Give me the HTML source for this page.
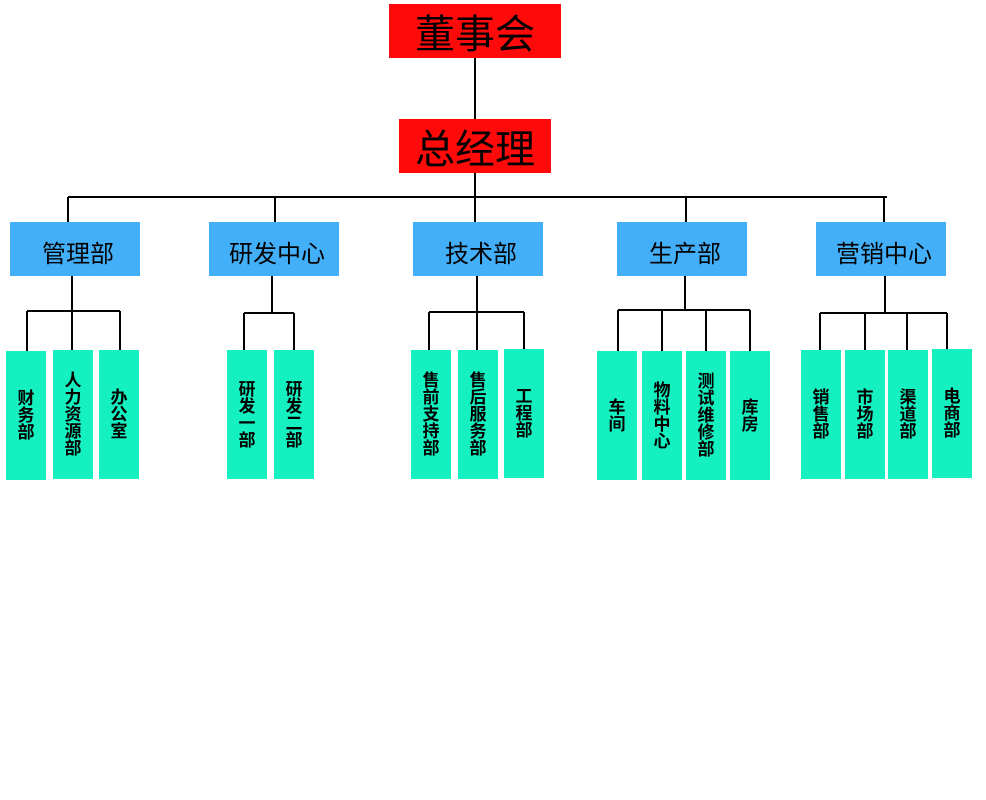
<!DOCTYPE html>
<html><head><meta charset="utf-8"><style>
body{margin:0;width:986px;height:800px;background:#fff;position:relative;overflow:hidden;font-family:"Liberation Sans","Noto Sans CJK SC",sans-serif;}
.b{position:absolute;display:flex;align-items:center;justify-content:center;color:#000;}
.r{background:#ff0a0a;font-size:40px;}
.m{background:#42aff8;font-size:24px;}
.m span{margin-left:6px;margin-top:4px;}
.g{background:#14f0c0;font-size:17px;line-height:17px;font-weight:bold;}
.g span{width:17px;text-align:center;word-break:break-all;}
svg{position:absolute;left:0;top:0;}
</style></head><body>
<svg width="986" height="800" stroke="#000" stroke-width="2" fill="none">
<path d="M475 58V119M475 173V197M68 197H887M68 197V222M275 197V222M475 197V222M686 197V222M884 197V222"/>
<path d="M72 276V311M27 311H120M27 311V351M72 311V350M120 311V350"/>
<path d="M272 276V313M244 313H294M244 313V350M294 313V350"/>
<path d="M477 276V312M429 312H524M429 312V350M477 312V350M524 312V349"/>
<path d="M685 276V310M618 310H750M618 310V351M662 310V351M706 310V351M750 310V351"/>
<path d="M885 276V313M820 313H947M820 313V350M865 313V350M907 313V350M947 313V349"/>
</svg>
<div class="b r" style="left:389px;top:4px;width:172px;height:54px">董事会</div>
<div class="b r" style="left:399px;top:119px;width:152px;height:54px">总经理</div>
<div class="b m" style="left:10px;top:222px;width:130px;height:54px"><span>管理部</span></div>
<div class="b m" style="left:209px;top:222px;width:130px;height:54px"><span>研发中心</span></div>
<div class="b m" style="left:413px;top:222px;width:130px;height:54px"><span>技术部</span></div>
<div class="b m" style="left:617px;top:222px;width:130px;height:54px"><span>生产部</span></div>
<div class="b m" style="left:816px;top:222px;width:130px;height:54px"><span>营销中心</span></div>
<div class="b g" style="left:6px;top:351px;width:40px;height:129px"><span>财务部</span></div>
<div class="b g" style="left:53px;top:350px;width:40px;height:129px"><span>人力资源部</span></div>
<div class="b g" style="left:99px;top:350px;width:40px;height:129px"><span>办公室</span></div>
<div class="b g" style="left:227px;top:350px;width:40px;height:129px"><span>研发一部</span></div>
<div class="b g" style="left:274px;top:350px;width:40px;height:129px"><span>研发二部</span></div>
<div class="b g" style="left:411px;top:350px;width:40px;height:129px"><span>售前支持部</span></div>
<div class="b g" style="left:458px;top:350px;width:40px;height:129px"><span>售后服务部</span></div>
<div class="b g" style="left:504px;top:349px;width:40px;height:129px"><span>工程部</span></div>
<div class="b g" style="left:597px;top:351px;width:40px;height:129px"><span>车间</span></div>
<div class="b g" style="left:642px;top:351px;width:40px;height:129px"><span>物料中心</span></div>
<div class="b g" style="left:686px;top:351px;width:40px;height:129px"><span>测试维修部</span></div>
<div class="b g" style="left:730px;top:351px;width:40px;height:129px"><span>库房</span></div>
<div class="b g" style="left:801px;top:350px;width:40px;height:129px"><span>销售部</span></div>
<div class="b g" style="left:845px;top:350px;width:40px;height:129px"><span>市场部</span></div>
<div class="b g" style="left:888px;top:350px;width:40px;height:129px"><span>渠道部</span></div>
<div class="b g" style="left:932px;top:349px;width:40px;height:129px"><span>电商部</span></div>
</body></html>
